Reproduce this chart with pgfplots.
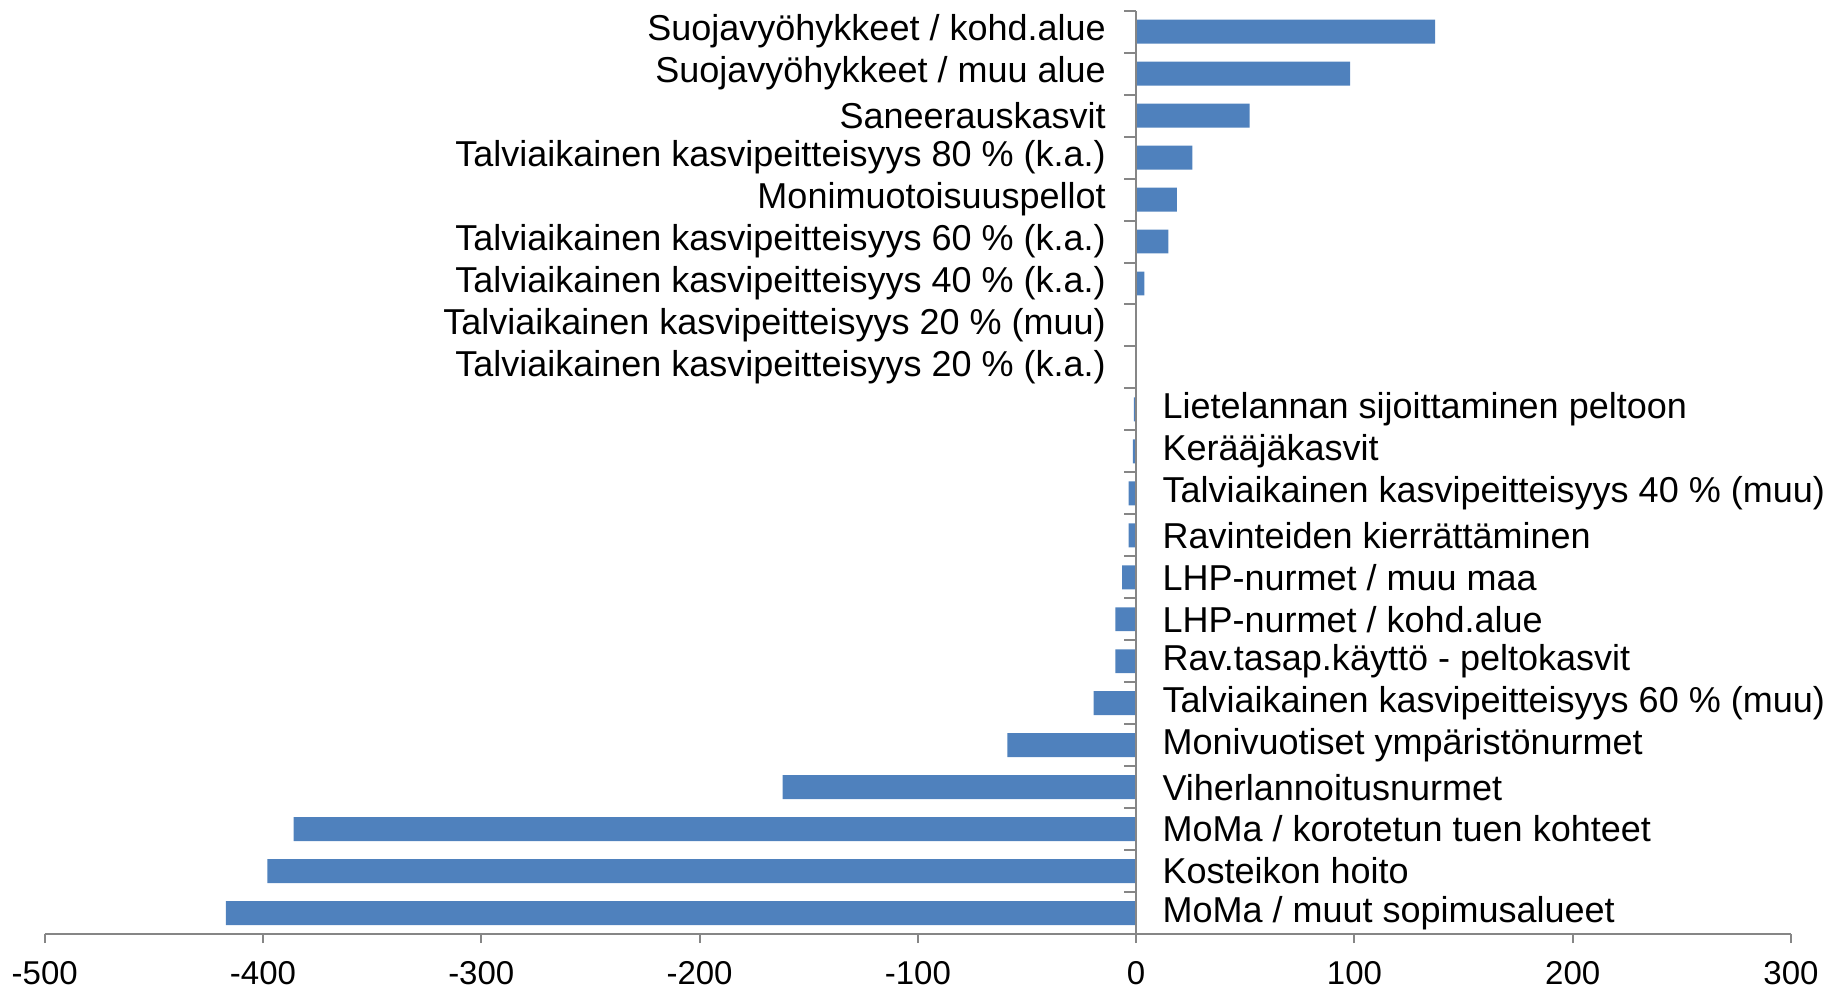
\documentclass[border=0pt]{standalone}
\usepackage{pgfplots}
\pgfplotsset{compat=1.18}
\usepackage{pgfplotstable}
\usepackage{fontspec}
\setmainfont{Liberation Sans}
\definecolor{barblue}{HTML}{4F81BD}
\definecolor{axgray}{HTML}{868686}
\pgfplotstableread{
y val
1 -417
2 -398
3 -386
4 -162
5 -59
6 -19.5
7 -9.5
8 -9.5
9 -6.4
10 -3.4
11 -3.4
12 -1.5
13 -1
14 0
15 0
16 3.8
17 14.8
18 18.6
19 25.7
20 52
21 98
22 137
}\datatable
\begin{document}
\begin{tikzpicture}
\begin{axis}[
  name=ax,
  scale only axis,
  width=873pt, height=461.6pt,
  xmin=-500, xmax=300,
  ymin=0.5, ymax=22.5,
  xbar, bar width=0.57,
  axis x line*=bottom,
  axis y line=none,
  axis line style={axgray, line width=1pt},
  xtick={-500,-400,-300,-200,-100,0,100,200,300},
  xticklabels={-500,-400,-300,-200,-100,0,100,200,300},
  xtick align=outside,
  major tick length=4.5pt,
  every tick/.style={axgray, line width=1pt},
  ticklabel style={font=\fontsize{16.5}{18}\selectfont, inner sep=0pt},
  xticklabel style={yshift=-9pt},
  ytick=\empty,
  clip=false,
]
\addplot[fill=barblue, draw=none] table[x=val, y=y] {\datatable};
\draw[axgray, line width=1pt] (axis cs:0,0.5) -- (axis cs:0,22.5);
\pgfplotsinvokeforeach{0.5,1.5,...,22.5}{
  \draw[axgray, line width=1pt] (axis cs:0,#1) -- ([xshift=-6pt]axis cs:0,#1);
}
\begin{scope}[every node/.style={font=\fontsize{18}{20}\selectfont, inner sep=0pt}]
\node[anchor=east, xshift=-15pt] at (axis cs:0,22) {Suojavyöhykkeet / kohd.alue};
\node[anchor=east, xshift=-15pt] at (axis cs:0,21) {Suojavyöhykkeet / muu alue};
\node[anchor=east, xshift=-15pt] at (axis cs:0,20) {Saneerauskasvit};
\node[anchor=east, xshift=-15pt] at (axis cs:0,19) {Talviaikainen kasvipeitteisyys 80 \% (k.a.)};
\node[anchor=east, xshift=-15pt] at (axis cs:0,18) {Monimuotoisuuspellot};
\node[anchor=east, xshift=-15pt] at (axis cs:0,17) {Talviaikainen kasvipeitteisyys 60 \% (k.a.)};
\node[anchor=east, xshift=-15pt] at (axis cs:0,16) {Talviaikainen kasvipeitteisyys 40 \% (k.a.)};
\node[anchor=east, xshift=-15pt] at (axis cs:0,15) {Talviaikainen kasvipeitteisyys 20 \% (muu)};
\node[anchor=east, xshift=-15pt] at (axis cs:0,14) {Talviaikainen kasvipeitteisyys 20 \% (k.a.)};
\node[anchor=west, xshift=13pt] at (axis cs:0,13) {Lietelannan sijoittaminen peltoon};
\node[anchor=west, xshift=13pt] at (axis cs:0,12) {Kerääjäkasvit};
\node[anchor=west, xshift=13pt] at (axis cs:0,11) {Talviaikainen kasvipeitteisyys 40 \% (muu)};
\node[anchor=west, xshift=13pt] at (axis cs:0,10) {Ravinteiden kierrättäminen};
\node[anchor=west, xshift=13pt] at (axis cs:0,9) {LHP-nurmet / muu maa};
\node[anchor=west, xshift=13pt] at (axis cs:0,8) {LHP-nurmet / kohd.alue};
\node[anchor=west, xshift=13pt] at (axis cs:0,7) {Rav.tasap.käyttö - peltokasvit};
\node[anchor=west, xshift=13pt] at (axis cs:0,6) {Talviaikainen kasvipeitteisyys 60 \% (muu)};
\node[anchor=west, xshift=13pt] at (axis cs:0,5) {Monivuotiset ympäristönurmet};
\node[anchor=west, xshift=13pt] at (axis cs:0,4) {Viherlannoitusnurmet};
\node[anchor=west, xshift=13pt] at (axis cs:0,3) {MoMa / korotetun tuen kohteet};
\node[anchor=west, xshift=13pt] at (axis cs:0,2) {Kosteikon hoito};
\node[anchor=west, xshift=13pt] at (axis cs:0,1) {MoMa / muut sopimusalueet};
\end{scope}
\end{axis}
\path (ax.south west) +(-22.35pt,-27pt) (ax.north east) +(27pt,5.35pt);
\end{tikzpicture}
\end{document}
